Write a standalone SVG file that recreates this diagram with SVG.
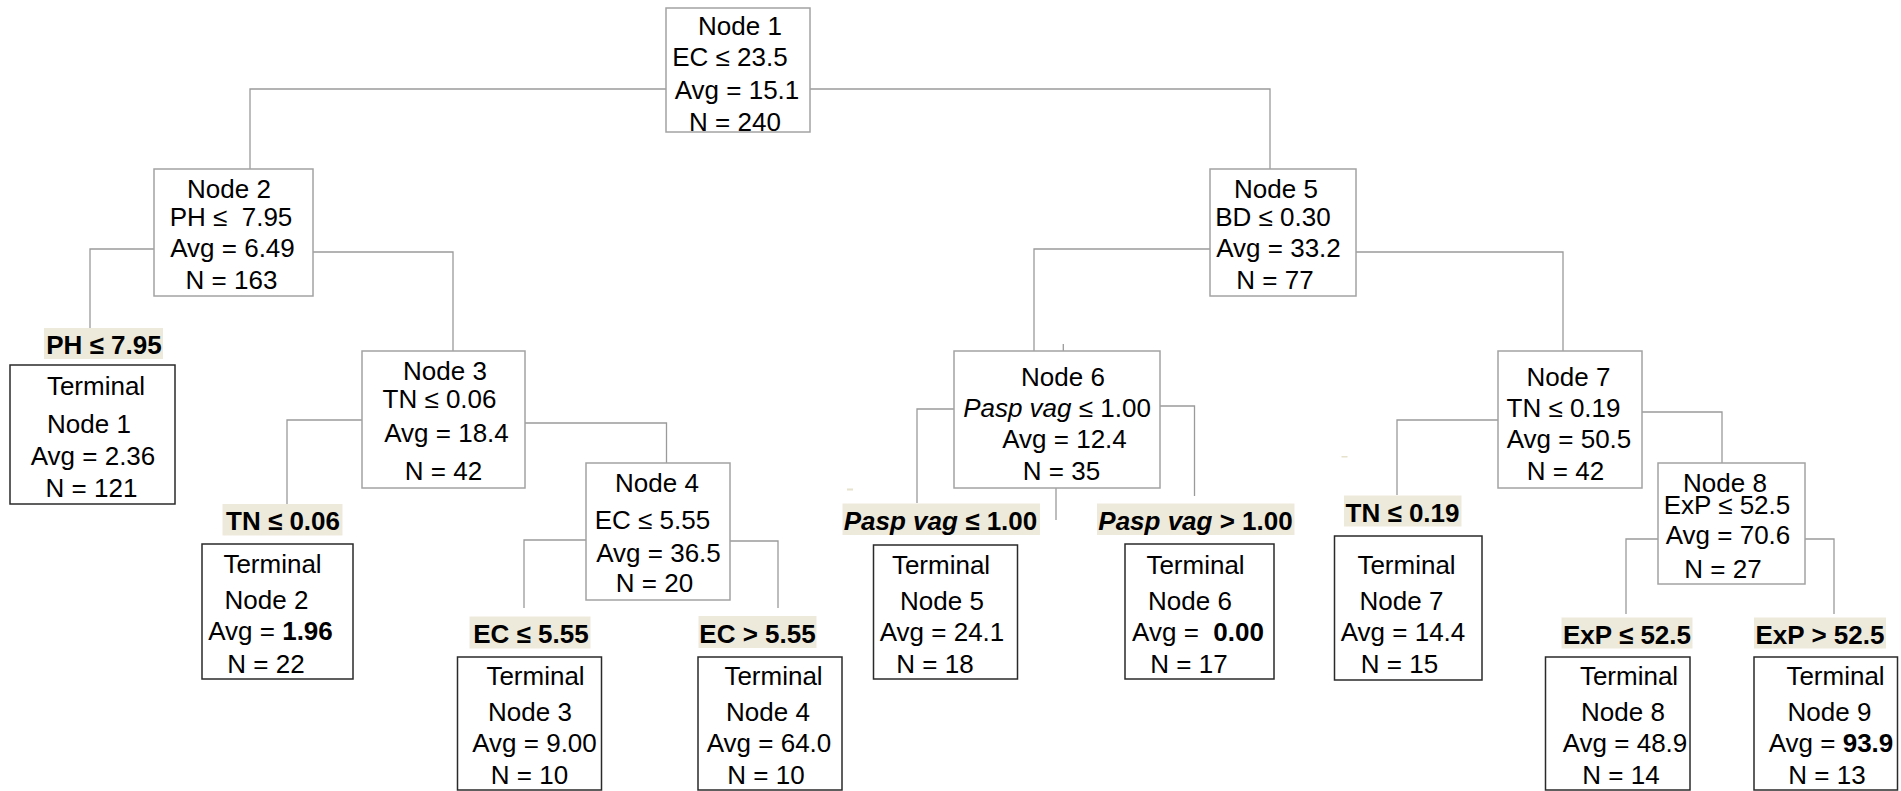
<svg xmlns="http://www.w3.org/2000/svg" width="1901" height="791" viewBox="0 0 1901 791">
<style>
text{font-family:"Liberation Sans",Arial,sans-serif;font-size:26px;fill:#000;text-anchor:middle;white-space:pre}
.b{font-weight:bold}
.i{font-style:italic}
.box{fill:#fff;stroke:#a3a3a3;stroke-width:1.5}
.term{fill:#fff;stroke:#2a2a2a;stroke-width:1.5}
.hl{fill:#edeadc}
.con path{fill:none;stroke:#9a9a9a;stroke-width:1.3}
.faint{fill:none;stroke:#cfcfcf;stroke-width:1.2}
.dash{fill:#e6e2cc}
</style>
<rect width="1901" height="791" fill="#fff"/>
<g id="connectors" class="con">
<path d="M666,89H250V169"/>
<path d="M810,89H1270V169"/>
<path d="M154,249H90V328"/>
<path d="M313,252H453V351"/>
<path d="M362,420H287V504"/>
<path d="M525,423H666.5V463"/>
<path d="M586,540H524V608"/>
<path d="M730,541H778V608"/>
<path d="M1210,249H1034V351"/>
<path d="M1356,252H1563V351"/>
<path d="M954,409H917V503"/>
<path d="M1160,406H1194.5V496"/>
<path d="M1498,420H1397V495"/>
<path d="M1642,412H1722V463"/>
<path d="M1658,539H1626V614"/>
<path d="M1805,539H1834V614"/>
<path d="M1063.3,344V351"/>
<path class="faint" d="M1056,488V520"/>
</g>
<g id="artifacts">
<rect class="dash" x="847" y="488.5" width="6" height="2"/>
<rect class="dash" x="1341.5" y="456" width="6" height="1.5"/>
</g>
<g id="node1">
<rect class="box" x="666" y="8" width="144" height="124"/>
<text x="740" y="35">Node 1</text>
<text x="730" y="66">EC ≤ 23.5</text>
<text x="737" y="99">Avg = 15.1</text>
<text x="735" y="131">N = 240</text>
</g>
<g id="node2">
<rect class="box" x="154" y="169" width="159" height="127"/>
<text x="229" y="198">Node 2</text>
<text x="231" y="226">PH ≤  7.95</text>
<text x="232.5" y="257">Avg = 6.49</text>
<text x="231.5" y="289">N = 163</text>
</g>
<g id="node5">
<rect class="box" x="1210" y="169" width="146" height="127"/>
<text x="1276" y="198">Node 5</text>
<text x="1273" y="226">BD ≤ 0.30</text>
<text x="1278.5" y="257">Avg = 33.2</text>
<text x="1275" y="289">N = 77</text>
</g>
<g id="node3">
<rect class="box" x="362" y="351" width="163" height="137"/>
<text x="445" y="380">Node 3</text>
<text x="439.5" y="408">TN ≤ 0.06</text>
<text x="446.5" y="442">Avg = 18.4</text>
<text x="443.5" y="480">N = 42</text>
</g>
<g id="node6">
<rect class="box" x="954" y="351" width="206" height="137"/>
<text x="1063" y="386">Node 6</text>
<text x="1057" y="417"><tspan class="i">Pasp vag</tspan> ≤ 1.00</text>
<text x="1064.5" y="448">Avg = 12.4</text>
<text x="1061.5" y="480">N = 35</text>
</g>
<g id="node7">
<rect class="box" x="1498" y="351" width="144" height="137"/>
<text x="1568.5" y="386">Node 7</text>
<text x="1563.5" y="417">TN ≤ 0.19</text>
<text x="1569" y="448">Avg = 50.5</text>
<text x="1565.5" y="480">N = 42</text>
</g>
<g id="node4">
<rect class="box" x="586" y="463" width="144" height="137"/>
<text x="657" y="492">Node 4</text>
<text x="652.5" y="529">EC ≤ 5.55</text>
<text x="658.5" y="562">Avg = 36.5</text>
<text x="654.5" y="592">N = 20</text>
</g>
<g id="node8">
<rect class="box" x="1658" y="463" width="147" height="121"/>
<text x="1725" y="491.5">Node 8</text>
<text x="1727" y="513.5">ExP ≤ 52.5</text>
<text x="1728" y="544">Avg = 70.6</text>
<text x="1723" y="577.5">N = 27</text>
</g>
<g id="label-ph">
<rect class="hl" x="44" y="328" width="119" height="31"/>
<text class="b" x="104" y="354">PH ≤ 7.95</text>
</g>
<g id="terminal1">
<rect class="term" x="10" y="365" width="165" height="139"/>
<text x="96" y="395">Terminal</text>
<text x="89" y="433">Node 1</text>
<text x="93" y="465">Avg = 2.36</text>
<text x="91.5" y="497">N = 121</text>
</g>
<g id="label-tn006">
<rect class="hl" x="222.5" y="504" width="120" height="31.5"/>
<text class="b" x="283" y="530">TN ≤ 0.06</text>
</g>
<g id="terminal2">
<rect class="term" x="202" y="544" width="151" height="135"/>
<text x="272.5" y="573">Terminal</text>
<text x="266.5" y="609">Node 2</text>
<text x="270.5" y="640">Avg = <tspan class="b">1.96</tspan></text>
<text x="266" y="673">N = 22</text>
</g>
<g id="label-ec-le">
<rect class="hl" x="469.5" y="616.5" width="121" height="32"/>
<text class="b" x="531" y="643">EC ≤ 5.55</text>
</g>
<g id="terminal3">
<rect class="term" x="457.5" y="657" width="144" height="133"/>
<text x="535.5" y="685">Terminal</text>
<text x="530" y="721">Node 3</text>
<text x="534.5" y="752">Avg = 9.00</text>
<text x="529.5" y="784">N = 10</text>
</g>
<g id="label-ec-gt">
<rect class="hl" x="698.5" y="616" width="118" height="32"/>
<text class="b" x="757.5" y="643">EC &gt; 5.55</text>
</g>
<g id="terminal4">
<rect class="term" x="698" y="657" width="144" height="133"/>
<text x="773.5" y="685">Terminal</text>
<text x="768" y="721">Node 4</text>
<text x="769" y="752">Avg = 64.0</text>
<text x="766" y="784">N = 10</text>
</g>
<g id="label-pasp-le">
<rect class="hl" x="842.5" y="503.5" width="197.5" height="31.5"/>
<text class="b" x="940.5" y="530"><tspan class="i">Pasp vag</tspan> ≤ 1.00</text>
</g>
<g id="terminal5">
<rect class="term" x="873.5" y="545" width="144" height="134"/>
<text x="941" y="573.5">Terminal</text>
<text x="942" y="609.5">Node 5</text>
<text x="942" y="641">Avg = 24.1</text>
<text x="935" y="673">N = 18</text>
</g>
<g id="label-pasp-gt">
<rect class="hl" x="1097" y="503.5" width="197.5" height="31.5"/>
<text class="b" x="1195.5" y="530"><tspan class="i">Pasp vag</tspan> &gt; 1.00</text>
</g>
<g id="terminal6">
<rect class="term" x="1125" y="544" width="149" height="135"/>
<text x="1195.5" y="573.5">Terminal</text>
<text x="1190" y="609.5">Node 6</text>
<text x="1198" y="641">Avg =  <tspan class="b">0.00</tspan></text>
<text x="1189" y="673">N = 17</text>
</g>
<g id="label-tn019">
<rect class="hl" x="1344" y="495.5" width="117.5" height="31"/>
<text class="b" x="1402.5" y="521.5">TN ≤ 0.19</text>
</g>
<g id="terminal7">
<rect class="term" x="1334.5" y="536" width="147.5" height="144"/>
<text x="1406.5" y="574">Terminal</text>
<text x="1401.5" y="609.5">Node 7</text>
<text x="1403" y="640.5">Avg = 14.4</text>
<text x="1399.5" y="673">N = 15</text>
</g>
<g id="label-exp-le">
<rect class="hl" x="1561.5" y="617.5" width="131" height="31"/>
<text class="b" x="1627" y="643.5">ExP ≤ 52.5</text>
</g>
<g id="terminal8">
<rect class="term" x="1545.5" y="657" width="144.5" height="133"/>
<text x="1629" y="685">Terminal</text>
<text x="1623" y="721">Node 8</text>
<text x="1625" y="752">Avg = 48.9</text>
<text x="1621" y="784">N = 14</text>
</g>
<g id="label-exp-gt">
<rect class="hl" x="1754" y="617.5" width="132" height="31"/>
<text class="b" x="1820" y="643.5">ExP &gt; 52.5</text>
</g>
<g id="terminal9">
<rect class="term" x="1754" y="657" width="143.5" height="133"/>
<text x="1835.5" y="685">Terminal</text>
<text x="1829.5" y="721">Node 9</text>
<text x="1831" y="752">Avg = <tspan class="b">93.9</tspan></text>
<text x="1827" y="784">N = 13</text>
</g>
</svg>
